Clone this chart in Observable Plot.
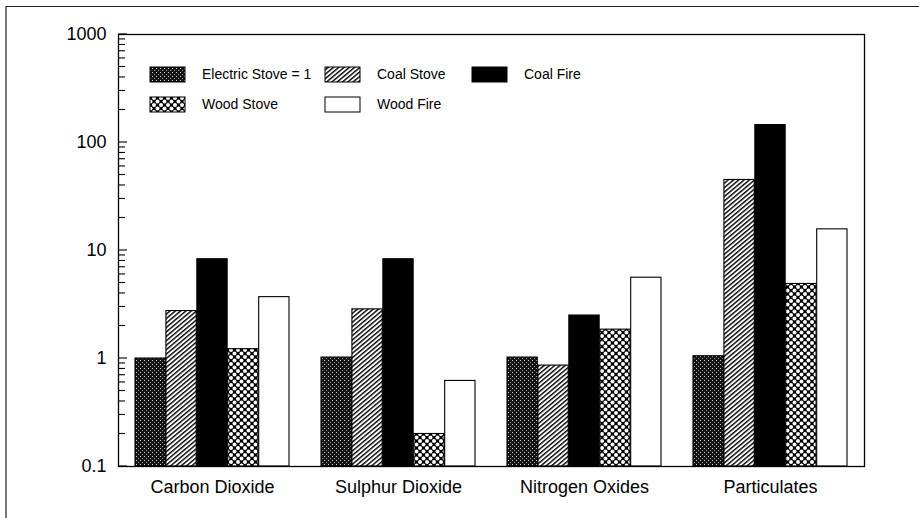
<!DOCTYPE html>
<html><head><meta charset="utf-8">
<script src="https://cdn.jsdelivr.net/npm/d3@7"></script>
<script src="https://cdn.jsdelivr.net/npm/@observablehq/plot@0.6"></script>
<style>
html,body{margin:0;padding:0;background:#fff;}
#chart svg{display:block;}
</style></head><body><div id="chart"></div>
<script>
// ---- data ----
const categories = ["Carbon Dioxide", "Sulphur Dioxide", "Nitrogen Oxides", "Particulates"];
const series = ["Electric Stove = 1", "Coal Stove", "Coal Fire", "Wood Stove", "Wood Fire"];
const electricStove = [1.0, 1.02, 1.02, 1.05];
const coalStove = [2.75, 2.85, 0.86, 45];
const coalFire = [8.3, 8.3, 2.5, 145];
const woodStove = [1.22, 0.2, 1.85, 4.9];
const woodFire = [3.7, 0.62, 5.6, 15.7];
const yTicks = [0.1, 1, 10, 100, 1000];
const yTickLabels = ["0.1", "1", "10", "100", "1000"];

const seriesValues = [electricStove, coalStove, coalFire, woodStove, woodFire];
const data = series.flatMap((s, i) => categories.map((c, j) => ({category: c, series: s, value: seriesValues[i][j]})));

// ---- layout ----
const W = 919, H = 518;
const mL = 118, mR = 55, mT = 34, mB = 52;
const pIn = 0.171, pOut = 0.0855;
const step = (W - mL - mR) / (categories.length - pIn + 2 * pOut);
const barW = step * (1 - pIn) / series.length;
const fills = ["url(#p-elec)", "url(#p-coalstove)", "black", "url(#p-woodstove)", "white"];
const font = "'Liberation Sans', Arial, Helvetica, sans-serif";

const marks = series.map((s, i) => Plot.barY(data.filter(d => d.series === s), {
  x: "category", y1: 0.1, y2: "value",
  fill: fills[i], stroke: "black", strokeWidth: 1.1,
  insetLeft: i * barW, insetRight: (series.length - 1 - i) * barW
}));
marks.push(Plot.frame({stroke: "black", strokeWidth: 1.3}));

const plot = Plot.plot({
  width: W, height: H,
  marginLeft: mL, marginRight: mR, marginTop: mT, marginBottom: mB,
  style: {fontSize: "18px", fontFamily: font, background: "white", color: "black"},
  x: {domain: categories, paddingInner: pIn, paddingOuter: pOut, align: 0.5, tickSize: 0, tickPadding: 14, label: null},
  y: {type: "log", domain: [0.1, 1000], ticks: yTicks, tickFormat: d => yTickLabels[yTicks.indexOf(d)], tickSize: 0, tickPadding: 12, label: null},
  marks
});

const svg = d3.select(plot);
const defs = svg.insert("defs", ":first-child");
// electric stove: dark stipple
const pe = defs.append("pattern").attr("id", "p-elec").attr("patternUnits", "userSpaceOnUse").attr("width", 4).attr("height", 4);
pe.append("rect").attr("width", 4).attr("height", 4).attr("fill", "#151515");
pe.append("rect").attr("x", 0).attr("y", 0).attr("width", 1).attr("height", 1).attr("fill", "#ccc");
pe.append("rect").attr("x", 2).attr("y", 2).attr("width", 1).attr("height", 1).attr("fill", "#999");
// coal stove: diagonal hatch
const pc = defs.append("pattern").attr("id", "p-coalstove").attr("patternUnits", "userSpaceOnUse")
  .attr("width", 8).attr("height", 3.4).attr("patternTransform", "rotate(-40)");
pc.append("rect").attr("width", 8).attr("height", 3.4).attr("fill", "white");
pc.append("rect").attr("y", 0).attr("width", 8).attr("height", 1.4).attr("fill", "black");
// wood stove: black lattice with white blobs
const pw = defs.append("pattern").attr("id", "p-woodstove").attr("patternUnits", "userSpaceOnUse").attr("width", 7).attr("height", 7);
pw.append("rect").attr("width", 7).attr("height", 7).attr("fill", "black");
for (const [cx, cy] of [[0,0],[7,0],[0,7],[7,7],[3.5,3.5]]) {
  pw.append("circle").attr("cx", cx).attr("cy", cy).attr("r", 2.0).attr("fill", "white");
}

// minor / major y ticks pointing inward
const y = plot.scale("y");
const allTicks = d3.scaleLog().domain(y.domain).ticks();
svg.append("g").attr("stroke", "black").attr("stroke-width", 1.1)
  .selectAll("line").data(allTicks).join("line")
  .attr("x1", mL).attr("x2", d => mL + (yTicks.includes(d) ? 9 : 7))
  .attr("y1", d => y.apply(d)).attr("y2", d => y.apply(d));

// outer border
svg.append("path").attr("d", `M6,${H} V6.5 H${W}`).attr("fill", "none").attr("stroke", "#222").attr("stroke-width", 1.2);

// legend
const legendPos = [[150, 67], [325, 67], [472, 67], [150, 97], [325, 97]];
const lg = svg.append("g").attr("font-family", font).attr("font-size", 14).attr("text-anchor", "start");
series.forEach((s, i) => {
  const [lx, ly] = legendPos[i];
  lg.append("rect").attr("x", lx).attr("y", ly).attr("width", 35).attr("height", 15)
    .attr("fill", fills[i]).attr("stroke", "black").attr("stroke-width", 1);
  lg.append("text").attr("x", lx + 52).attr("y", ly + 7.5).attr("dy", "0.35em").attr("fill", "black").text(s);
});

document.getElementById("chart").append(plot);
</script>
</body></html>
